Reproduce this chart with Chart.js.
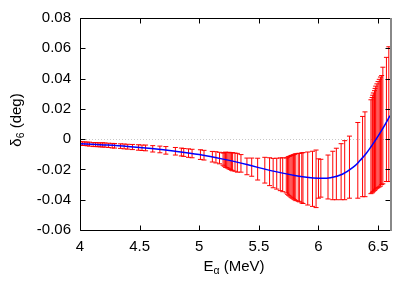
<!DOCTYPE html>
<html lang="en">
<head>
<meta charset="UTF-8">
<title>delta_6 phase shift vs E_alpha</title>
<style>
  body { margin: 0; background: #fff; }
  #wrap { width: 415px; height: 291px; }
</style>
</head>
<body>
<div id="wrap"><canvas id="chart" width="415" height="291"></canvas></div>
<script src="https://cdn.jsdelivr.net/npm/chart.js"></script>
<script>
// measured points (E_alpha in MeV, delta_6 in deg, error in deg)
const energies = [
  4.00, 4.02, 4.04, 4.06, 4.08, 4.11, 4.13, 4.15, 4.17, 4.19, 4.21, 4.24, 4.27, 4.29,
  4.34, 4.37, 4.40, 4.44, 4.49, 4.52, 4.55, 4.61, 4.67, 4.72, 4.80, 4.85, 4.87, 4.91, 4.94,
  5.01, 5.04, 5.11, 5.14, 5.17, 5.20, 5.21, 5.22, 5.23, 5.24, 5.25, 5.26, 5.27, 5.28, 5.30,
  5.32, 5.35, 5.40, 5.44, 5.49, 5.55, 5.59, 5.62, 5.65, 5.68, 5.70,
  5.73, 5.74, 5.75, 5.76, 5.77, 5.78, 5.79, 5.80, 5.81, 5.83, 5.84, 5.86, 5.87, 5.91, 5.95, 5.98,
  6.00, 6.02, 6.08, 6.12, 6.15, 6.19, 6.22, 6.26, 6.33, 6.37, 6.39,
  6.44, 6.45, 6.455, 6.46, 6.47, 6.475, 6.48, 6.49, 6.50, 6.51, 6.52, 6.53, 6.54, 6.57, 6.59
];
const deltas = [
  -0.0028, -0.0030, -0.0030, -0.0032, -0.0033, -0.0036, -0.0036, -0.0037, -0.0038, -0.0038, -0.0039, -0.0041, -0.0043, -0.0044,
  -0.0046, -0.0048, -0.0050, -0.0052, -0.0055, -0.0057, -0.0058, -0.0064, -0.0068, -0.0074, -0.0080, -0.0085, -0.0088, -0.0092, -0.0095,
  -0.0102, -0.0106, -0.0116, -0.0120, -0.0125, -0.0132, -0.0134, -0.0136, -0.0138, -0.0140, -0.0142, -0.0145, -0.0147, -0.0149, -0.0152,
  -0.0156, -0.0160, -0.0180, -0.0185, -0.0198, -0.0205, -0.0215, -0.0224, -0.0228, -0.0232, -0.0235,
  -0.0240, -0.0242, -0.0243, -0.0245, -0.0246, -0.0248, -0.0249, -0.0250, -0.0251, -0.0252, -0.0254, -0.0256, -0.0257, -0.0260, -0.0262, -0.0262,
  -0.0260, -0.0258, -0.0250, -0.0240, -0.0230, -0.0215, -0.0205, -0.0185, -0.0140, -0.0115, -0.0100,
  -0.0050, -0.0040, -0.0030, -0.0020, -0.0010, 0.0000, 0.0010, 0.0020, 0.0030, 0.0040, 0.0050, 0.0060, 0.0090, 0.0130, 0.0165
];
const errors = [
  0.0012, 0.0012, 0.0012, 0.0012, 0.0013, 0.0013, 0.0013, 0.0013, 0.0013, 0.0014, 0.0014, 0.0014, 0.0015, 0.0015,
  0.0015, 0.0016, 0.0016, 0.0017, 0.0018, 0.0018, 0.0019, 0.0021, 0.0022, 0.0025, 0.0025, 0.0026, 0.0026, 0.0028, 0.0028,
  0.0032, 0.0032, 0.0035, 0.0037, 0.0038, 0.0040, 0.0045, 0.0050, 0.0050, 0.0052, 0.0055, 0.0055, 0.0058, 0.0060, 0.0060,
  0.0062, 0.0058, 0.0055, 0.0060, 0.0072, 0.0085, 0.0092, 0.0097, 0.0102, 0.0108, 0.0112,
  0.0115, 0.0122, 0.0128, 0.0132, 0.0138, 0.0142, 0.0146, 0.0150, 0.0155, 0.0158, 0.0160, 0.0165, 0.0168, 0.0175, 0.0182, 0.0190,
  0.0130, 0.0125, 0.0145, 0.0160, 0.0170, 0.0185, 0.0195, 0.0205, 0.0250, 0.0265, 0.0280,
  0.0310, 0.0315, 0.0320, 0.0325, 0.0330, 0.0335, 0.0340, 0.0345, 0.0350, 0.0355, 0.0360, 0.0360, 0.0385, 0.0410, 0.0445
];

// fitted curve
const fitE = [4.0, 4.2, 4.4, 4.6, 4.8, 5.0, 5.2, 5.4, 5.6, 5.8, 5.9, 6.0, 6.1, 6.2, 6.3, 6.35, 6.4, 6.45, 6.5, 6.55, 6.6];
const fitDelta = [-0.0030, -0.0038, -0.0048, -0.0062, -0.0080, -0.0102, -0.0132, -0.0168, -0.0208, -0.0240, -0.0252,
  -0.0258, -0.0255, -0.0232, -0.0180, -0.0140, -0.0095, -0.0040, 0.0020, 0.0085, 0.0155];

const xTicks = [4, 4.5, 5, 5.5, 6, 6.5];
const yTicks = [-0.06, -0.04, -0.02, 0, 0.02, 0.04, 0.06, 0.08];

const FONT = 'Liberation Sans, Arial, sans-serif';

// red error bars + dotted zero line, under the fit curve
const errorBars = {
  id: 'errorBars',
  beforeDatasetsDraw(chart) {
    const {ctx, chartArea: a, scales: {x, y}} = chart;
    ctx.save();
    ctx.beginPath(); ctx.rect(a.left, a.top, a.width, a.height); ctx.clip();
    const y0 = y.getPixelForValue(0);
    ctx.strokeStyle = '#c8c8c8'; ctx.lineWidth = 1; ctx.setLineDash([1, 2]);
    ctx.beginPath(); ctx.moveTo(a.left, Math.round(y0) + 0.5); ctx.lineTo(a.right, Math.round(y0) + 0.5); ctx.stroke();
    ctx.setLineDash([]);
    ctx.strokeStyle = '#ff0000';
    energies.forEach((e, i) => {
      const px = x.getPixelForValue(e);
      const top = y.getPixelForValue(deltas[i] + errors[i]);
      const bot = y.getPixelForValue(deltas[i] - errors[i]);
      ctx.beginPath();
      ctx.moveTo(px, top); ctx.lineTo(px, bot);
      ctx.moveTo(px - 2.5, top); ctx.lineTo(px + 2.5, top);
      ctx.moveTo(px - 2.5, bot); ctx.lineTo(px + 2.5, bot);
      ctx.stroke();
    });
    ctx.restore();
  }
};

// gnuplot style frame with inward ticks, and axis titles with subscripts
const frame = {
  id: 'frame',
  afterDraw(chart) {
    const {ctx, chartArea: a, scales: {x, y}} = chart;
    const L = Math.round(a.left) + 0.5, R = Math.round(a.right) + 0.5;
    const T = Math.round(a.top) + 0.5, B = Math.round(a.bottom) + 0.5;
    ctx.save();
    ctx.strokeStyle = '#000'; ctx.lineWidth = 1;
    ctx.beginPath();
    ctx.moveTo(R, T); ctx.lineTo(L, T); ctx.lineTo(L, B); ctx.lineTo(R, B);
    xTicks.forEach(v => {
      const px = Math.round(x.getPixelForValue(v)) + 0.5;
      ctx.moveTo(px, B); ctx.lineTo(px, B - 5);
      ctx.moveTo(px, T); ctx.lineTo(px, T + 5);
    });
    yTicks.forEach(v => {
      const py = Math.round(y.getPixelForValue(v)) + 0.5;
      ctx.moveTo(L, py); ctx.lineTo(L + 5, py);
      ctx.moveTo(R, py); ctx.lineTo(R - 5, py);
    });
    ctx.stroke();
    ctx.strokeStyle = '#888'; ctx.lineWidth = 2;
    ctx.beginPath(); ctx.moveTo(R + 0.5, T - 0.5); ctx.lineTo(R + 0.5, B + 0.5); ctx.stroke();

    ctx.fillStyle = '#000';
    ctx.textBaseline = 'alphabetic';
    ctx.textAlign = 'left';
    // x title: E_alpha (MeV)
    const big = '15px ' + FONT, small = '10.5px ' + FONT;
    ctx.font = big; const wE = ctx.measureText('E').width, wR = ctx.measureText(' (MeV)').width;
    ctx.font = small; const wA = ctx.measureText('\u03b1').width;
    let sx = 234 - (wE + wA + wR) / 2, by = 271;
    ctx.font = big; ctx.fillText('E', sx, by);
    ctx.font = small; ctx.fillText('\u03b1', sx + wE, by + 3);
    ctx.font = big; ctx.fillText(' (MeV)', sx + wE + wA, by);
    // y title: delta_6 (deg), rotated
    ctx.translate(21, 120);
    ctx.rotate(-Math.PI / 2);
    ctx.font = big; const wD = ctx.measureText('\u03b4').width, wG = ctx.measureText(' (deg)').width;
    ctx.font = small; const w6 = ctx.measureText('6').width;
    sx = -(wD + w6 + wG) / 2;
    ctx.font = big; ctx.fillText('\u03b4', sx, 0);
    ctx.font = small; ctx.fillText('6', sx + wD, 3);
    ctx.font = big; ctx.fillText(' (deg)', sx + wD + w6, 0);
    ctx.restore();
  }
};

new Chart(document.getElementById('chart'), {
  type: 'scatter',
  data: {
    datasets: [{
      data: fitE.map((e, i) => ({x: e, y: fitDelta[i]})),
      showLine: true,
      borderColor: '#0000ff',
      borderWidth: 1.5,
      pointRadius: 0,
      tension: 0.4,
      fill: false
    }]
  },
  options: {
    responsive: false,
    animation: false,
    events: [],
    layout: {padding: {left: 0, top: 14, right: 25, bottom: 0}},
    plugins: {legend: {display: false}, tooltip: {enabled: false}},
    scales: {
      x: {
        type: 'linear', min: 4, max: 6.6,
        afterBuildTicks: s => { s.ticks = xTicks.map(v => ({value: v})); },
        afterFit: s => { s.height = 61; },
        grid: {display: false, drawTicks: false},
        border: {display: false},
        ticks: {padding: 8, color: '#000', font: {family: FONT, size: 15}, callback: v => String(v)}
      },
      y: {
        type: 'linear', min: -0.06, max: 0.08,
        afterBuildTicks: s => { s.ticks = yTicks.map(v => ({value: v})); },
        afterFit: s => { s.width = 80; },
        grid: {display: false, drawTicks: false},
        border: {display: false},
        ticks: {padding: 9, color: '#000', font: {family: FONT, size: 15},
          callback: v => v === 0 ? '0' : v.toFixed(2)}
      }
    }
  },
  plugins: [errorBars, frame]
});
</script>
</body>
</html>
